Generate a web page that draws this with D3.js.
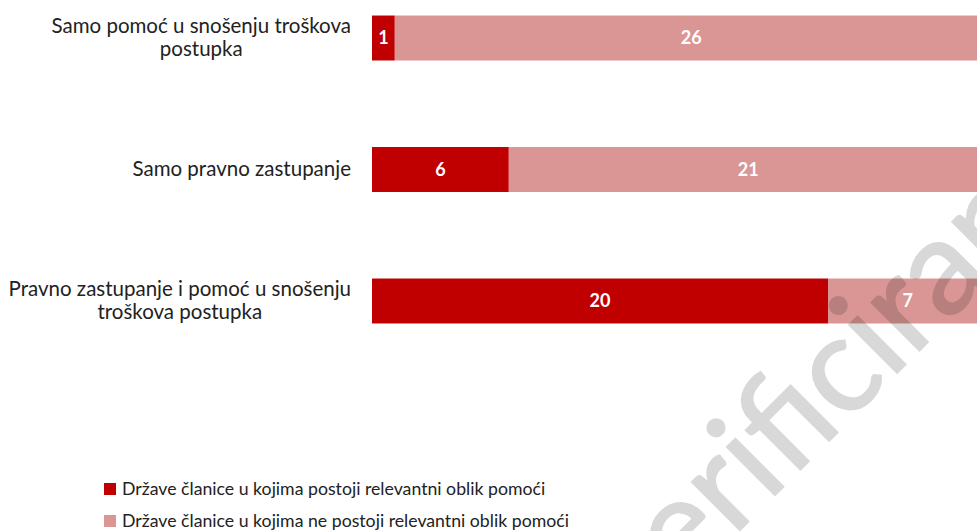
<!DOCTYPE html>
<html><head><meta charset="utf-8">
<script src="https://cdn.jsdelivr.net/npm/d3@7"></script>
<style>body{margin:0;background:#fff}svg{display:block}</style>
</head><body>
<svg id="c" width="977" height="531"></svg>
<script>
const categories = [
  ["Samo pomoć u snošenju troškova", "postupka"],
  ["Samo pravno zastupanje"],
  ["Pravno zastupanje i pomoć u snošenju", "troškova postupka"]
];
const catKeys = categories.map(d => d.join(" "));
const seriesNames = [
  "Države članice u kojima postoji relevantni oblik pomoći",
  "Države članice u kojima ne postoji relevantni oblik pomoći"
];
const exists = [1, 6, 20];
const notExists = [26, 21, 7];
const colors = ["#c00000", "#d99694"];
const watermark = "Neverificirano";

const font = "Lato, 'Open Sans', sans-serif";
const svg = d3.select("#c");
const x = d3.scaleLinear().domain([0, 27]).range([372, 987.6]);
const y = d3.scaleBand().domain(catKeys).range([-71, 410]).padding(0.658);

const stackData = catKeys.map((k, i) => ({key: k, a: exists[i], b: notExists[i]}));
const stacked = d3.stack().keys(["a", "b"])(stackData);

const g = svg.append("g");
stacked.forEach((layer, li) => {
  g.selectAll(null).data(layer).enter().append("rect")
    .attr("x", d => x(d[0]))
    .attr("width", d => x(d[1]) - x(d[0]))
    .attr("y", d => y(d.data.key))
    .attr("height", y.bandwidth())
    .attr("fill", colors[li]);
  g.selectAll(null).data(layer).enter().append("text")
    .attr("x", d => (x(d[0]) + x(d[1])) / 2)
    .attr("y", d => y(d.data.key) + y.bandwidth() / 2)
    .attr("dy", "0.36em")
    .attr("text-anchor", "middle")
    .attr("font-family", font).attr("font-weight", "bold")
    .attr("font-size", 18).attr("fill", "#fff")
    .text(d => d[1] - d[0]);
});

// category labels (wrapped, block right-aligned, lines centred)
categories.forEach((lines, i) => {
  const cy = y(catKeys[i]) + y.bandwidth() / 2;
  const t = svg.append("text").attr("font-family", font).attr("font-size", 20.5)
    .attr("fill", "#222");
  const lh = 23;
  const spans = lines.map((l, j) => t.append("tspan").text(l)
    .attr("y", cy + (j - (lines.length - 1) / 2) * lh).attr("dy", "0.34em"));
  const widths = spans.map(s => s.node().getComputedTextLength());
  const maxW = Math.max(...widths);
  const center = 351 - maxW / 2;
  spans.forEach(s => s.attr("x", center).attr("text-anchor", "middle"));
});

// legend
seriesNames.forEach((n, i) => {
  const ly = 489 + i * 32;
  svg.append("rect").attr("x", 104).attr("y", ly - 6).attr("width", 12).attr("height", 12)
    .attr("fill", colors[i]);
  svg.append("text").attr("x", 122).attr("y", ly).attr("dy", "0.36em")
    .attr("font-family", font).attr("font-size", 17.7).attr("fill", "#222").text(n);
});

// watermark
svg.append("g").attr("opacity", 0.15)
  .append("text")
  .attr("transform", "translate(808,462) rotate(-45)")
  .attr("text-anchor", "middle")
  .attr("font-family", font).attr("font-size", 134)
  .attr("fill", "#000").attr("stroke", "#000").attr("stroke-width", 2)
  .text(watermark);
</script>
</body></html>
